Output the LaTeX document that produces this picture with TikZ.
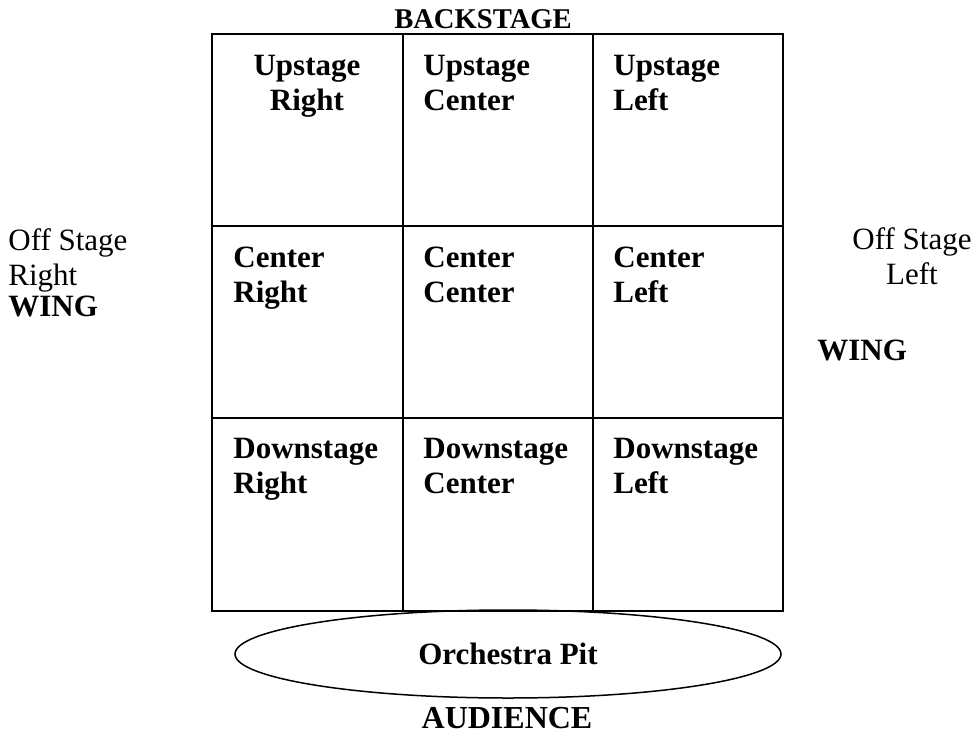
\documentclass[tikz,border=0pt]{standalone}
\usepackage{fontspec}
\setmainfont{Liberation Serif}
\usetikzlibrary{shapes.geometric}
\begin{document}
\begin{tikzpicture}[x=0.5pt,y=-0.5pt,
  gridline/.style={line width=1pt},
  cell/.style={anchor=north west, align=left, inner sep=0pt,
    font=\bfseries\fontsize{15.5}{17.5}\selectfont},
  label/.style={inner sep=0pt, font=\fontsize{15.5}{17.5}\selectfont},
  heading/.style={inner sep=0pt, anchor=base, font=\bfseries\fontsize{15.5}{17.5}\selectfont}]
\useasboundingbox (0,0) rectangle (975,734);

% stage grid, three by three
\draw[gridline] (212,34) rectangle (783,611);
\draw[gridline] (402.5,34) -- (402.5,611) (593,34) -- (593,611)
                (212,226) -- (783,226) (212,418) -- (783,418);

% cell names
\node[cell, anchor=north, align=center] (ur) at (307,55) {Upstage\\Right};
\node[cell] (uc) at (423,55) {Upstage\\Center};
\node[cell] (ul) at (613,55) {Upstage\\Left};
\node[cell] (cr) at (233,247) {Center\\Right};
\node[cell] (cc) at (423,247) {Center\\Center};
\node[cell] (cl) at (613,247) {Center\\Left};
\node[cell] (dr) at (233,438) {Downstage\\Right};
\node[cell] (dc) at (423,438) {Downstage\\Center};
\node[cell] (dl) at (613,438) {Downstage\\Left};

% surroundings
\node[heading, font=\bfseries\fontsize{14.3}{16.5}\selectfont] (back) at (483,28) {BACKSTAGE};
\node[label, anchor=north west, align=left] (osr) at (8,228) {Off Stage\\Right\\[-2pt]\textbf{WING}};
\node[label, anchor=north, align=center] (osl) at (912,227) {Off Stage\\Left};
\node[label, anchor=base west, font=\bfseries\fontsize{15.5}{17.5}\selectfont] (wingl) at (817,360) {WING};

% orchestra pit and audience
\node[ellipse, draw, line width=0.75pt, minimum width=273pt, minimum height=44pt,
      inner sep=0pt, font=\bfseries\fontsize{15.5}{17.5}\selectfont] (pit) at (508,654) {Orchestra Pit};
\node[heading, font=\bfseries\fontsize{16}{18}\selectfont] (aud) at (507,728) {AUDIENCE};
\end{tikzpicture}
\end{document}
